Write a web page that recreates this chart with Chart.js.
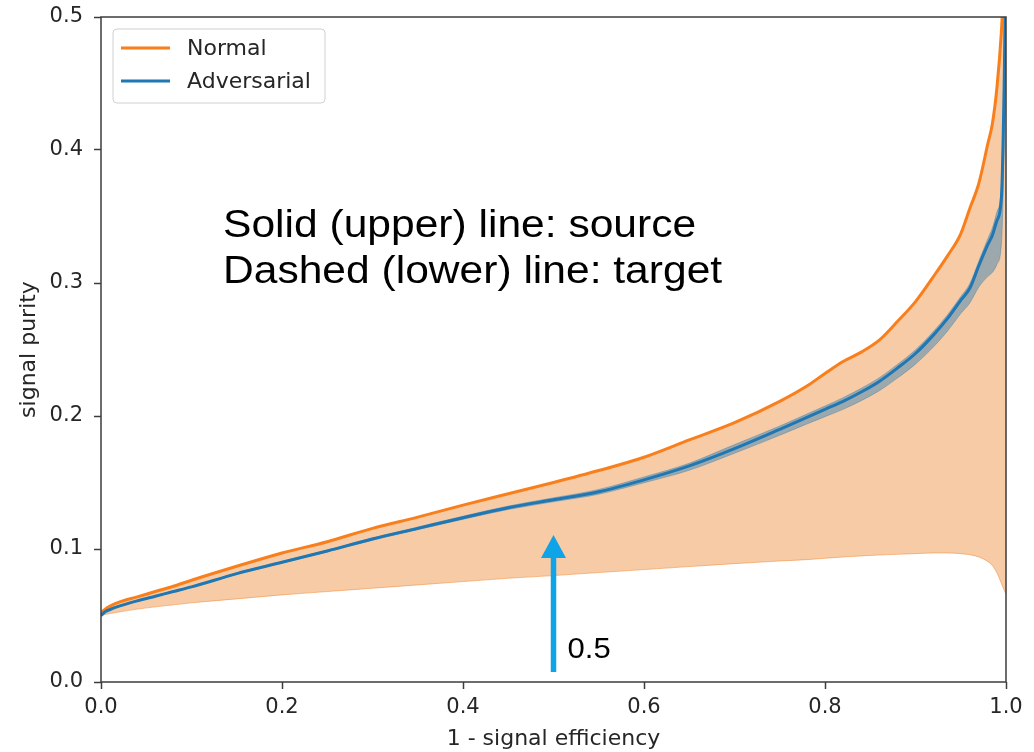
<!DOCTYPE html>
<html>
<head>
<meta charset="utf-8">
<title>signal purity vs 1 - signal efficiency</title>
<script src="https://cdn.jsdelivr.net/npm/chart.js@4.4.1/dist/chart.umd.min.js"></script>
<style>
  html, body { margin: 0; padding: 0; background: #fff; }
  #wrap { width: 1034px; height: 752px; }
</style>
</head>
<body>
<div id="wrap"><canvas id="chart" width="1034" height="752"></canvas></div>
<script>
// --- data ---
const xs = [0, 0.005, 0.01, 0.02, 0.04, 0.06, 0.08, 0.1, 0.15, 0.2, 0.25, 0.3, 0.35, 0.4, 0.45, 0.5,
  0.55, 0.6, 0.65, 0.7, 0.75, 0.78, 0.8, 0.82, 0.84, 0.86, 0.88, 0.9, 0.92, 0.935, 0.95, 0.96,
  0.97, 0.98, 0.985, 0.99, 0.995, 0.998, 1.0];

// orange curve (Normal) and the lower edge of its shaded band
const normal = [0.052, 0.055, 0.057, 0.060, 0.064, 0.068, 0.072, 0.0765, 0.087, 0.097, 0.1055, 0.1155,
  0.124, 0.133, 0.1415, 0.150, 0.159, 0.169, 0.182, 0.195, 0.211, 0.2225, 0.232, 0.241, 0.248, 0.257,
  0.271, 0.286, 0.305, 0.320, 0.337, 0.356, 0.375, 0.405, 0.42, 0.447, 0.49, 0.53, 0.56];
const normalLow = [0.050, 0.0508, 0.0515, 0.0527, 0.0548, 0.0565, 0.058, 0.0595, 0.0625, 0.0655, 0.068,
  0.0705, 0.073, 0.0755, 0.078, 0.080, 0.0823, 0.0845, 0.0868, 0.089, 0.091, 0.092, 0.093, 0.094,
  0.0948, 0.0955, 0.096, 0.0965, 0.097, 0.097, 0.0965, 0.0957, 0.094, 0.0905, 0.0875, 0.082, 0.074,
  0.069, 0.066];

// blue curve (Adversarial) and its narrow band
const adversarial = [0.050, 0.053, 0.0545, 0.057, 0.061, 0.0645, 0.068, 0.0715, 0.0815, 0.090, 0.0985,
  0.1075, 0.1155, 0.1235, 0.131, 0.137, 0.143, 0.152, 0.1625, 0.1755, 0.190, 0.199, 0.205, 0.211,
  0.218, 0.226, 0.236, 0.247, 0.261, 0.273, 0.287, 0.296, 0.313, 0.329, 0.336, 0.347, 0.365, 0.45, 0.55];
const advLow = [0.050, 0.0528, 0.0543, 0.0567, 0.0607, 0.0641, 0.0676, 0.0711, 0.081, 0.0894, 0.0978,
  0.1066, 0.1145, 0.1223, 0.1297, 0.1355, 0.1412, 0.1498, 0.1592, 0.172, 0.1855, 0.194, 0.1995, 0.205,
  0.2115, 0.219, 0.2285, 0.239, 0.252, 0.2635, 0.277, 0.285, 0.297, 0.305, 0.308, 0.314, 0.33, 0.40, 0.48];
const advHigh = [0.0502, 0.0532, 0.0547, 0.0573, 0.0613, 0.0649, 0.0684, 0.0719, 0.082, 0.0906, 0.0992,
  0.1084, 0.1165, 0.1247, 0.1323, 0.1385, 0.1448, 0.1542, 0.1645, 0.1785, 0.1925, 0.2015, 0.2075,
  0.2138, 0.2208, 0.2288, 0.2388, 0.2498, 0.2638, 0.2758, 0.2898, 0.2995, 0.3165, 0.3335, 0.3415,
  0.3535, 0.375, 0.47, 0.56];

const seriesNames = ['Normal', 'Adversarial'];
const xTicks = [0, 0.2, 0.4, 0.6, 0.8, 1.0];
const yTicks = [0, 0.1, 0.2, 0.3, 0.4, 0.5];
const noteLines = ['Solid (upper) line: source', 'Dashed (lower) line: target'];
const arrowMark = { x: 0.5, from: 0.0075, to: 0.1105, label: '0.5' };

const ORANGE = '#f97f1c';
const BLUE = '#1f77b4';
const INK = '#262626';
const SPINE = '#3c3c3c';

const pts = ys => xs.map((x, i) => ({ x, y: ys[i] }));

Chart.defaults.font.family = "'DejaVu Sans', sans-serif";

// frame, legend, text notes and the arrow
const extras = {
  id: 'extras',
  afterDatasetsDraw(chart) {
    const { ctx, chartArea: a, scales: { x, y } } = chart;
    ctx.save();

    // all four spines like matplotlib
    ctx.strokeStyle = SPINE;
    ctx.lineWidth = 1.5;
    ctx.strokeRect(a.left, a.top, a.right - a.left, a.bottom - a.top);

    // legend box
    const lx = a.left + 12, ly = a.top + 12;
    ctx.beginPath();
    ctx.roundRect(lx, ly, 212, 74, 4);
    ctx.fillStyle = 'rgba(255,255,255,0.8)';
    ctx.fill();
    ctx.strokeStyle = '#d0d0d0';
    ctx.lineWidth = 1;
    ctx.stroke();
    [ORANGE, BLUE].forEach((c, i) => {
      const yy = ly + 19 + i * 33;
      ctx.strokeStyle = c;
      ctx.lineWidth = 3;
      ctx.beginPath();
      ctx.moveTo(lx + 8, yy);
      ctx.lineTo(lx + 57, yy);
      ctx.stroke();
      ctx.fillStyle = INK;
      ctx.font = "22px 'DejaVu Sans'";
      ctx.textBaseline = 'middle';
      ctx.fillText(seriesNames[i], lx + 74, yy + 1);
    });

    // two-line note, slightly wide like the source image
    ctx.fillStyle = '#000';
    ctx.font = "38px 'Liberation Sans', Arial, sans-serif";
    ctx.textBaseline = 'alphabetic';
    noteLines.forEach((t, i) => {
      ctx.save();
      ctx.translate(a.left + 122, a.top + 220 + i * 46);
      ctx.scale(1.12, 1);
      ctx.fillText(t, 0, 0);
      ctx.restore();
    });

    // arrow
    const ax = x.getPixelForValue(arrowMark.x);
    const y0 = y.getPixelForValue(arrowMark.from);
    const y1 = y.getPixelForValue(arrowMark.to);
    ctx.strokeStyle = ctx.fillStyle = '#0fa3e8';
    ctx.lineWidth = 5.5;
    ctx.beginPath();
    ctx.moveTo(ax, y0);
    ctx.lineTo(ax, y1 + 18);
    ctx.stroke();
    ctx.beginPath();
    ctx.moveTo(ax, y1);
    ctx.lineTo(ax - 12.5, y1 + 23);
    ctx.lineTo(ax + 12.5, y1 + 23);
    ctx.closePath();
    ctx.fill();

    ctx.fillStyle = '#000';
    ctx.font = "29px 'Liberation Sans', Arial, sans-serif";
    ctx.save();
    ctx.translate(ax + 14, y0 - 14);
    ctx.scale(1.07, 1);
    ctx.fillText(arrowMark.label, 0, 0);
    ctx.restore();

    ctx.restore();
  }
};

new Chart(document.getElementById('chart'), {
  type: 'line',
  data: {
    datasets: [
      { label: 'normal-low', data: pts(normalLow), borderColor: 'rgba(240,124,30,0.45)', borderWidth: 1,
        pointRadius: 0, fill: false, order: 5 },
      { label: seriesNames[0], data: pts(normal), borderColor: ORANGE, borderWidth: 3, pointRadius: 0,
        fill: 0, backgroundColor: 'rgba(236,124,30,0.4)', order: 4 },
      { label: 'adv-low', data: pts(advLow), borderColor: 'rgba(31,119,180,0.35)', borderWidth: 1,
        pointRadius: 0, fill: false, order: 3 },
      { label: 'adv-high', data: pts(advHigh), borderColor: 'rgba(31,119,180,0.35)', borderWidth: 1,
        pointRadius: 0, fill: 2, backgroundColor: 'rgba(31,119,180,0.42)', order: 2 },
      { label: seriesNames[1], data: pts(adversarial), borderColor: BLUE, borderWidth: 3, pointRadius: 0,
        fill: false, order: 1 }
    ]
  },
  options: {
    responsive: false,
    animation: false,
    layout: { padding: { top: 17, right: 28, left: 0, bottom: 0 } },
    plugins: { legend: { display: false }, tooltip: { enabled: false } },
    elements: { line: { cubicInterpolationMode: 'monotone' } },
    scales: {
      x: {
        type: 'linear', min: 0, max: 1,
        afterBuildTicks: s => { s.ticks = xTicks.map(v => ({ value: v })); },
        afterFit: s => { s.height = 70; s.paddingLeft = 0; s.paddingRight = 0; },
        border: { display: false },
        grid: { drawOnChartArea: false, tickLength: 7, tickWidth: 1.5, tickColor: SPINE },
        ticks: { font: { size: 21 }, color: INK, padding: 6, maxRotation: 0, callback: v => v.toFixed(1) },
        title: { display: true, text: '1 - signal efficiency', font: { size: 22 }, color: INK, padding: 0 }
      },
      y: {
        type: 'linear', min: 0, max: 0.5,
        afterBuildTicks: s => { s.ticks = yTicks.map(v => ({ value: v })); },
        afterFit: s => { s.width = 101; s.paddingTop = 0; s.paddingBottom = 0; },
        border: { display: false },
        grid: { drawOnChartArea: false, tickLength: 7, tickWidth: 1.5, tickColor: SPINE },
        ticks: { font: { size: 21 }, color: INK, padding: 11, callback: v => v.toFixed(1) },
        title: { display: true, text: 'signal purity', font: { size: 22 }, color: INK, padding: { top: 16 } }
      }
    }
  },
  plugins: [extras]
});
</script>
</body>
</html>
